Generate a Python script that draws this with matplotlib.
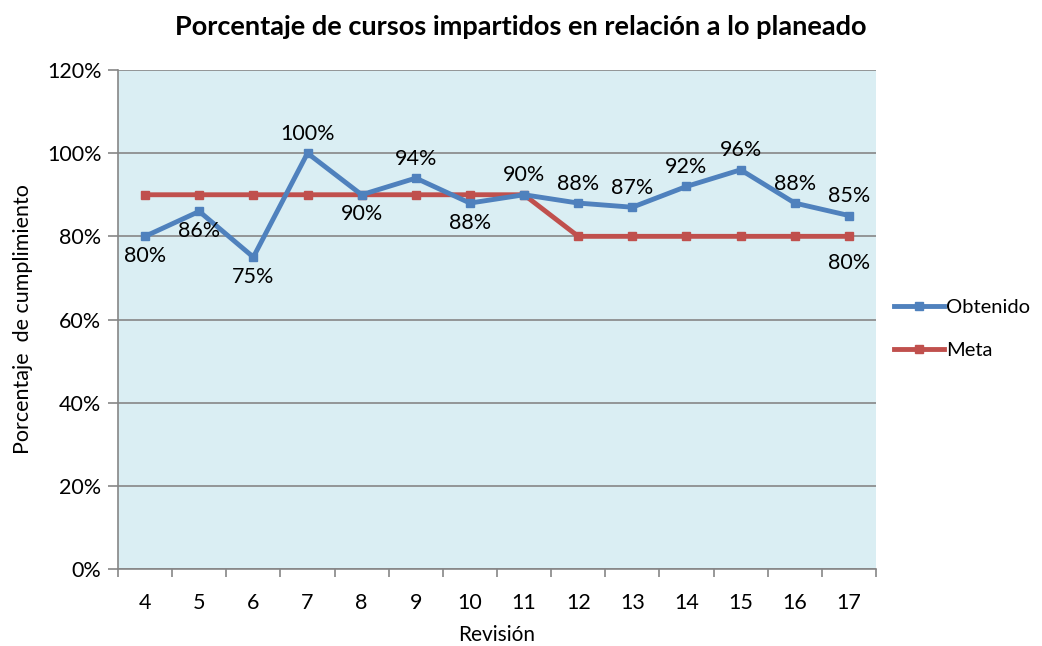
import matplotlib
matplotlib.use("Agg")
import matplotlib.pyplot as plt
from matplotlib.ticker import FixedLocator, PercentFormatter

plt.rcParams['font.family'] = ['Lato', 'DejaVu Sans']

revisiones = ['4', '5', '6', '7', '8', '9', '10', '11', '12', '13', '14', '15', '16', '17']
obtenido = [80, 86, 75, 100, 90, 94, 88, 90, 88, 87, 92, 96, 88, 85]
meta = [90, 90, 90, 90, 90, 90, 90, 90, 80, 80, 80, 80, 80, 80]
# label placement for Obtenido: 'b' below, 'a' above
pos_obt = ['b', 'b', 'b', 'a', 'b', 'a', 'b', 'a', 'a', 'a', 'a', 'a', 'a', 'a']

blue = '#4F81BD'
red = '#C0504D'
grid = '#868686'

fig = plt.figure(figsize=(10.42, 6.46), dpi=100)
ax = fig.add_axes([118/1042, 1-569/646, 758/1042, 499/646])
ax.set_facecolor('#DAEEF3')

x = list(range(len(revisiones)))
ax.plot(x, meta, color=red, lw=3.5, marker='s', ms=6, label='Meta', zorder=3)
ax.plot(x, obtenido, color=blue, lw=3.5, marker='s', ms=6, label='Obtenido', zorder=4)

for xi, v, p in zip(x, obtenido, pos_obt):
    dy = 14 if p == 'a' else -14
    ax.annotate(f'{v}%', (xi, v), xytext=(0, dy), textcoords='offset points',
                ha='center', va='center', fontsize=15.5, color='black', zorder=5)
ax.annotate(f'{meta[-1]}%', (x[-1], meta[-1]), xytext=(0, -19), textcoords='offset points',
            ha='center', va='center', fontsize=15.5, color='black', zorder=5)

ax.set_xlim(-0.5, len(revisiones) - 0.5)
ax.set_ylim(0, 120)
ax.yaxis.set_major_locator(FixedLocator([0, 20, 40, 60, 80, 100, 120]))
ax.yaxis.set_major_formatter(PercentFormatter(decimals=0))
ax.set_xticks(x)
ax.set_xticklabels(revisiones)
ax.set_xticks([i - 0.5 for i in range(len(revisiones) + 1)], minor=True)
ax.tick_params(axis='x', which='major', length=0, pad=17, labelsize=15.5)
ax.tick_params(axis='x', which='minor', length=6, width=1.2, color=grid)
ax.tick_params(axis='y', length=7, width=1.2, color=grid, labelsize=15.5, pad=5)

ax.grid(axis='y', color=grid, lw=1.2)
ax.set_axisbelow(True)
for s in ['top', 'right']:
    ax.spines[s].set_visible(False)
for s in ['left', 'bottom']:
    ax.spines[s].set_color(grid)
    ax.spines[s].set_linewidth(1.2)

ax.set_xlabel('Revisión', fontsize=15, labelpad=9)
ax.set_ylabel('Porcentaje  de cumplimiento', fontsize=15.5, labelpad=10)
fig.text(0.5, 1-27/646, 'Porcentaje de cursos impartidos en relación a lo planeado',
         ha='center', va='center', fontsize=19.5, fontweight='bold')

h, l = ax.get_legend_handles_labels()
leg = fig.legend([h[1], h[0]], [l[1], l[0]], loc='center left',
                 bbox_to_anchor=(876/1042, 1-329/646), frameon=False,
                 fontsize=14.5, handlelength=2.5, handletextpad=0.1, labelspacing=1.3)

fig.savefig('out.png', dpi=100)
